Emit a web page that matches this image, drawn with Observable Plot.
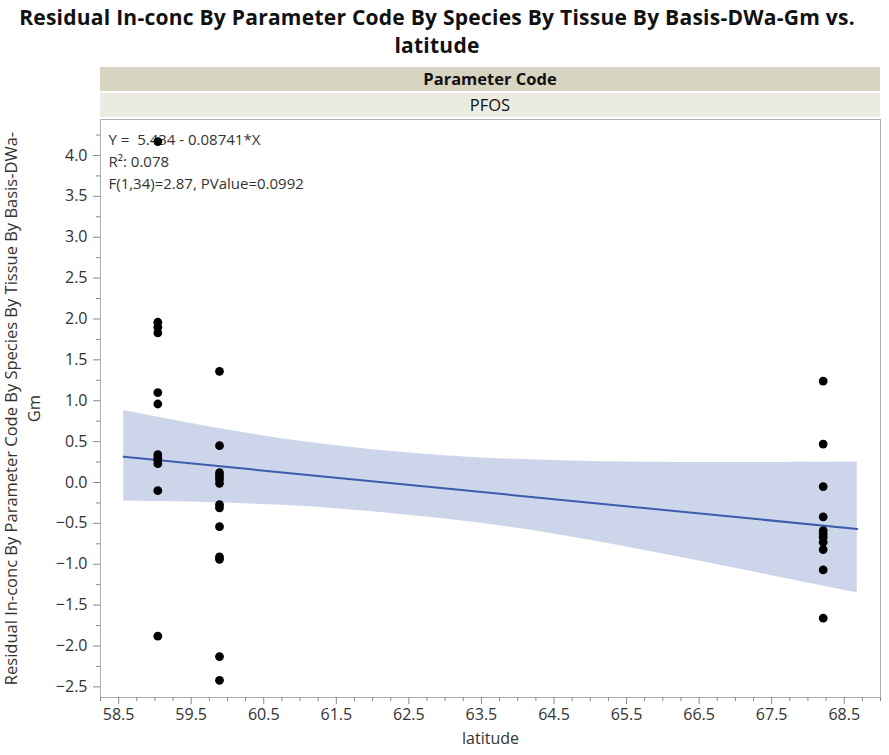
<!DOCTYPE html>
<html>
<head>
<meta charset="utf-8">
<script src="https://cdn.jsdelivr.net/npm/d3@7"></script>
<script src="https://cdn.jsdelivr.net/npm/@observablehq/plot@0.6"></script>
<style>
  html, body { margin: 0; padding: 0; background: #fff; }
  #wrap { position: relative; width: 889px; height: 755px; font-family: "Open Sans", "Noto Sans", sans-serif; }
  #title { position: absolute; left: 0; top: 3px; width: 874px; text-align: center; font-weight: bold; font-size: 21px; line-height: 28px; color: #111; white-space: nowrap; letter-spacing: 0.25px; }
  .band { position: absolute; left: 100px; width: 780px; height: 24px; line-height: 24px; text-align: center; font-size: 16.5px; color: #111; }
  #band1 { top: 67px; background: #d8d4c2; font-weight: bold; }
  #band2 { top: 93px; background: #ecebe2; }
  #chart { position: absolute; left: 0; top: 0; }
</style>
</head>
<body>
<div id="wrap">
  <div id="chart"></div>
  <div id="title">Residual In-conc By Parameter Code By Species By Tissue By Basis-DWa-Gm vs.<br>latitude</div>
  <div class="band" id="band1">Parameter Code</div>
  <div class="band" id="band2">PFOS</div>
</div>
<script>
// Site latitudes (three sampling locations)
const siteLat = [59.04, 59.89, 68.21];
// Residuals at each site
const residSite1 = [4.17, 1.96, 1.90, 1.83, 1.10, 0.96, 0.34, 0.30, 0.27, 0.23, -0.10, -1.88];
const residSite2 = [1.36, 0.45, 0.12, 0.08, 0.04, -0.01, -0.27, -0.31, -0.54, -0.91, -0.94, -2.13, -2.42];
const residSite3 = [1.24, 0.47, -0.05, -0.42, -0.59, -0.63, -0.67, -0.73, -0.82, -1.07, -1.66];

// Fit line endpoints (Y = 5.434 - 0.08741*X)
const fitLat = [58.57, 68.68];
const fitY = [0.314, -0.569];

// Confidence band
const bandLat = [58.57, 59.5, 60.5, 61.5, 62.5, 63.5, 64.5, 65.5, 66.5, 67.5, 68.68];
const bandHi = [0.88, 0.72, 0.57, 0.45, 0.36, 0.30, 0.27, 0.25, 0.245, 0.245, 0.25];
const bandLo = [-0.23, -0.24, -0.27, -0.32, -0.40, -0.50, -0.63, -0.79, -0.96, -1.14, -1.35];

const xMajor = [58.5, 59.5, 60.5, 61.5, 62.5, 63.5, 64.5, 65.5, 66.5, 67.5, 68.5];
const yMajor = [-2.5, -2.0, -1.5, -1.0, -0.5, 0.0, 0.5, 1.0, 1.5, 2.0, 2.5, 3.0, 3.5, 4.0];

const annotation = "Y =  5.434 - 0.08741*X\nR²: 0.078\nF(1,34)=2.87, PValue=0.0992";
const yLabel = "Residual In-conc By Parameter Code By Species By Tissue By Basis-DWa-\nGm";
const xLabel = "latitude";

const points = [];
[residSite1, residSite2, residSite3].forEach((arr, i) => arr.forEach(v => points.push({lat: siteLat[i], r: v})));
const band = bandLat.map((x, i) => ({x, lo: bandLo[i], hi: bandHi[i]}));
const fit = fitLat.map((x, i) => ({x, y: fitY[i]}));

const xMinor = d3.range(58.25, 69.01, 0.25).filter(v => !xMajor.some(m => Math.abs(m - v) < 1e-6));
const yMinor = d3.range(-2.5, 4.3, 0.25).filter(v => !yMajor.some(m => Math.abs(m - v) < 1e-6));

const chart = Plot.plot({
  width: 889,
  height: 755,
  marginLeft: 100,
  marginRight: 9,
  marginTop: 119,
  marginBottom: 58,
  style: {fontFamily: "'Open Sans', 'Noto Sans', sans-serif", background: "transparent", color: "#333"},
  x: {domain: [58.25, 69.0]},
  y: {domain: [-2.63, 4.44]},
  marks: [
    Plot.areaY(band, {x: "x", y1: "lo", y2: "hi", fill: "#cdd5ea", curve: "natural"}),
    Plot.line(fit, {x: "x", y: "y", stroke: "#3b5bab", strokeWidth: 2}),
    Plot.frame({stroke: "#b0b0b0"}),
    Plot.axisX({ticks: xMajor, tickFormat: d3.format(".1f"), tickSize: 7, tickPadding: 4, fontSize: 16, label: null, stroke: "#888"}),
    Plot.axisX({ticks: xMinor, tickSize: 4, text: null, label: null, stroke: "#888"}),
    Plot.axisY({ticks: yMajor, tickFormat: d3.format(".1f"), tickSize: 7, tickPadding: 6, fontSize: 16, label: null, stroke: "#888"}),
    Plot.axisY({ticks: yMinor, tickSize: 4, text: null, label: null, stroke: "#888"}),
    Plot.text([xLabel], {frameAnchor: "bottom", dy: 46, fontSize: 16, fill: "#333"}),
    Plot.text([yLabel], {frameAnchor: "left", textAnchor: "middle", dx: -79, rotate: -90, fontSize: 16.5, lineHeight: 1.4, fill: "#333"}),
    Plot.text([annotation], {frameAnchor: "top-left", dx: 8, dy: 10, textAnchor: "start", lineAnchor: "top", fontSize: 15, lineHeight: 1.47, fill: "#333"}),
    Plot.dot(points, {x: "lat", y: "r", r: 4.4, fill: "#000"})
  ]
});
document.getElementById("chart").appendChild(chart);
</script>
</body>
</html>
